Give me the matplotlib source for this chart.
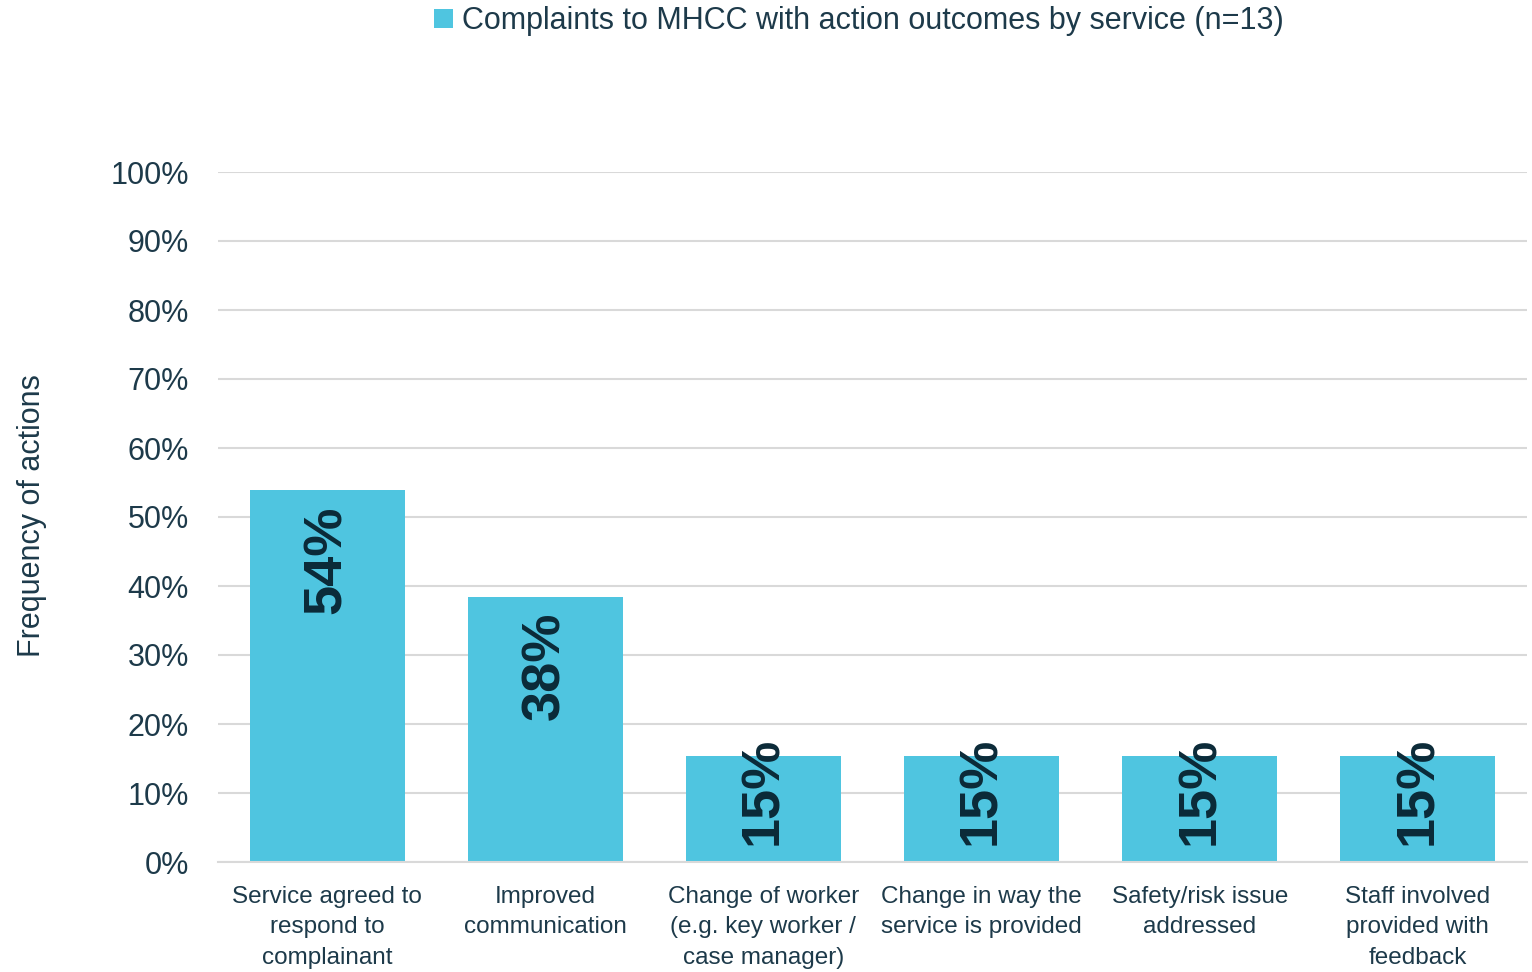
import matplotlib.pyplot as plt
import numpy as np

# --- data ---
categories = [
    "Service agreed to\nrespond to\ncomplainant",
    "Improved\ncommunication",
    "Change of worker\n(e.g. key worker /\ncase manager)",
    "Change in way the\nservice is provided",
    "Safety/risk issue\naddressed",
    "Staff involved\nprovided with\nfeedback",
]
counts = [7, 5, 2, 2, 2, 2]
n_total = 13
shares = [c / n_total for c in counts]
series_name = "Complaints to MHCC with action outcomes by service (n=13)"

bar_color = "#4fc5e0"
text_color = "#1d3a4a"
label_color = "#0b2a38"
grid_color = "#d9d9d9"

plt.rcParams['font.family'] = ['Liberation Sans', 'DejaVu Sans']

fig = plt.figure(figsize=(15.32, 9.72), dpi=100)
ax = fig.add_axes([218 / 1532, 1 - 862 / 972, (1527 - 218) / 1532, (862 - 172) / 972])

x = np.arange(len(categories))
bars = ax.bar(x, shares, width=0.71, color=bar_color, label=series_name, zorder=2)

ax.set_xlim(-0.5, len(categories) - 0.5)
ax.set_ylim(0, 1)
ticks = np.linspace(0, 1, 11)
ax.set_yticks(ticks)
ax.set_yticklabels([f"{int(round(v * 100))}%" for v in ticks], fontsize=22, color=text_color)
ax.set_xticks(x)
ax.set_xticklabels(categories, fontsize=17.5, color=text_color, linespacing=1.5, va='top')
ax.tick_params(axis='both', length=0)
ax.tick_params(axis='x', pad=17)
ax.tick_params(axis='y', pad=21)

ax.yaxis.grid(True, color=grid_color, linewidth=1.5, zorder=0)
for s in ['top', 'right', 'left']:
    ax.spines[s].set_visible(False)
ax.spines['bottom'].set_color(grid_color)
ax.spines['bottom'].set_linewidth(1.5)

# value labels, rotated, inside the bars
for rect, v in zip(bars, shares):
    cx = rect.get_x() + rect.get_width() / 2
    if v > 0.25:
        ax.annotate(f"{round(v * 100):.0f}%", (cx, v), xytext=(0, -11),
                    textcoords='offset points', rotation=90, ha='center', va='top',
                    fontsize=39, fontweight='bold', color=label_color, zorder=3)
    else:
        ax.annotate(f"{round(v * 100):.0f}%", (cx, 0), xytext=(0, 12),
                    textcoords='offset points', rotation=90, ha='center', va='bottom',
                    fontsize=39, fontweight='bold', color=label_color, zorder=3)

fig.text(32 / 1532, 1 - 516 / 972, "Frequency of actions", rotation=90,
         ha='center', va='center', fontsize=22, color=text_color)

fig.legend(loc='center', bbox_to_anchor=(859 / 1532, 1 - 21 / 972), frameon=False,
           fontsize=22, handlelength=0.6, handleheight=0.6, handletextpad=0.3,
           labelcolor=text_color)

fig.savefig("out.png", dpi=100)
